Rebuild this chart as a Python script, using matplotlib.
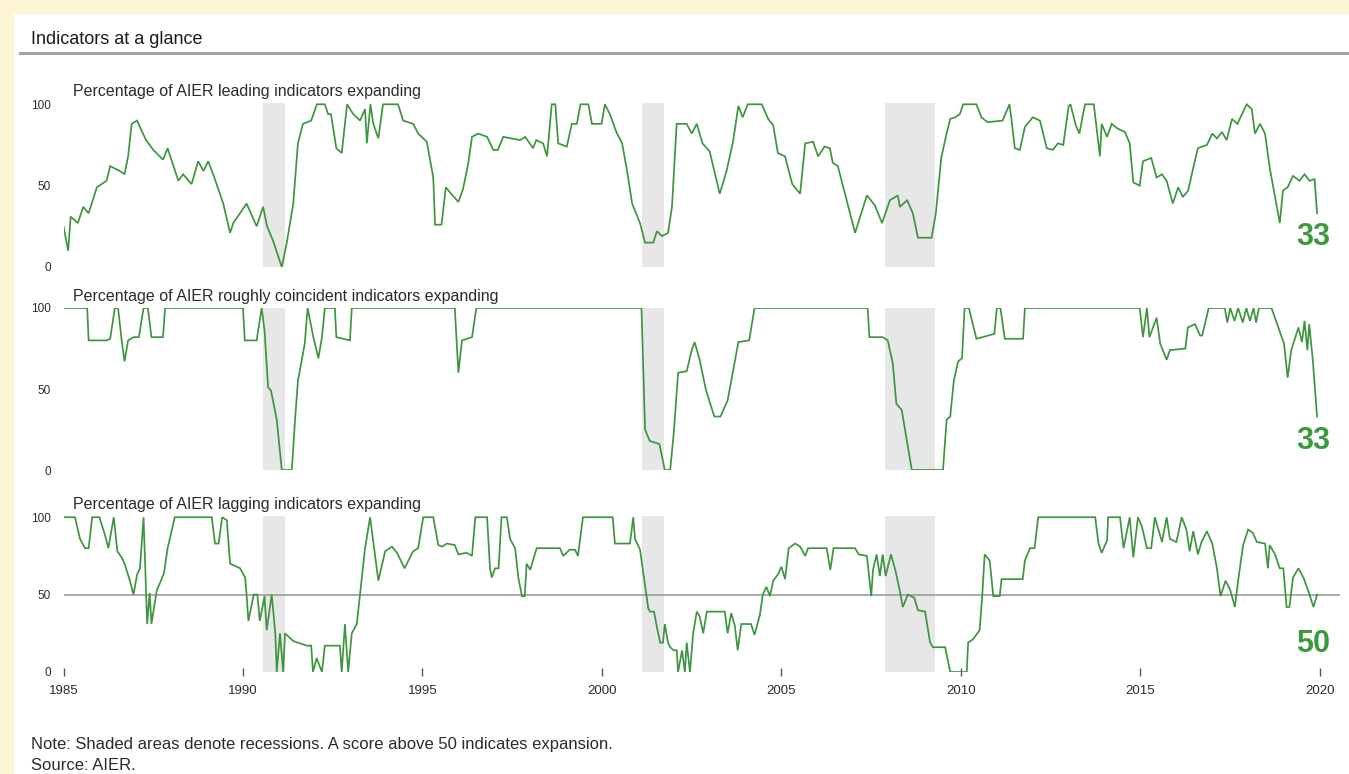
import matplotlib
matplotlib.use("Agg")
import matplotlib.pyplot as plt
from matplotlib.patches import Rectangle
from matplotlib.lines import Line2D
import numpy as np

# ---- data: (decimal year, % of indicators expanding) ----
lead_t = [1985.00, 1985.13, 1985.20, 1985.40, 1985.55, 1985.70, 1985.93, 1986.20, 1986.30, 1986.57,
          1986.70, 1986.80, 1986.90, 1987.05, 1987.15, 1987.30, 1987.50, 1987.77, 1987.90, 1988.05,
          1988.20, 1988.33, 1988.57, 1988.75, 1988.90, 1989.03, 1989.17, 1989.45, 1989.64, 1989.73,
          1990.10, 1990.38, 1990.56, 1990.67, 1990.84, 1991.08, 1991.22, 1991.40, 1991.53, 1991.67,
          1991.90, 1992.06, 1992.28, 1992.37, 1992.45, 1992.60, 1992.75, 1992.90, 1993.07, 1993.26,
          1993.40, 1993.45, 1993.55, 1993.63, 1993.77, 1993.90, 1994.32, 1994.46, 1994.74, 1994.88,
          1995.12, 1995.30, 1995.35, 1995.53, 1995.65, 1995.80, 1996.00, 1996.13, 1996.27, 1996.38,
          1996.55, 1996.80, 1996.97, 1997.10, 1997.25, 1997.72, 1997.86, 1998.08, 1998.17, 1998.36,
          1998.47, 1998.60, 1998.70, 1998.78, 1999.02, 1999.16, 1999.30, 1999.40, 1999.62, 1999.72,
          1999.99, 2000.08, 2000.22, 2000.40, 2000.56, 2000.70, 2000.84, 2000.97, 2001.06, 2001.20,
          2001.43, 2001.53, 2001.67, 2001.84, 2001.95, 2002.08, 2002.36, 2002.50, 2002.64, 2002.80,
          2003.00, 2003.28, 2003.47, 2003.65, 2003.80, 2003.92, 2004.06, 2004.45, 2004.63, 2004.77,
          2004.90, 2005.10, 2005.30, 2005.52, 2005.66, 2005.88, 2006.02, 2006.20, 2006.35, 2006.43,
          2006.57, 2007.05, 2007.38, 2007.60, 2007.80, 2008.02, 2008.24, 2008.30, 2008.50, 2008.66,
          2008.80, 2009.18, 2009.30, 2009.45, 2009.60, 2009.70, 2009.84, 2009.97, 2010.06, 2010.43,
          2010.57, 2010.74, 2011.16, 2011.35, 2011.40, 2011.50, 2011.64, 2011.78, 2012.00, 2012.20,
          2012.39, 2012.56, 2012.70, 2012.85, 2013.00, 2013.05, 2013.20, 2013.30, 2013.40, 2013.46,
          2013.70, 2013.78, 2013.87, 2013.92, 2014.07, 2014.20, 2014.37, 2014.57, 2014.70, 2014.80,
          2014.98, 2015.07, 2015.30, 2015.45, 2015.60, 2015.73, 2015.90, 2016.05, 2016.18, 2016.33,
          2016.47, 2016.60, 2016.85, 2017.00, 2017.13, 2017.27, 2017.40, 2017.55, 2017.70, 2017.83,
          2017.96, 2018.10, 2018.19, 2018.33, 2018.47, 2018.60, 2018.75, 2018.88, 2018.97, 2019.10,
          2019.25, 2019.43, 2019.57, 2019.71, 2019.85, 2019.92]
lead_v = [25, 10, 31, 27, 37, 33, 49, 53, 62, 59,
          57, 68, 88, 90, 85, 78, 72, 66, 73, 63,
          53, 57, 51, 65, 59, 65, 57, 39, 21, 27,
          39, 25, 37, 25, 16, 0, 15, 39, 76, 88,
          90, 100, 100, 94, 94, 73, 70, 100, 94, 90,
          97, 76, 100, 88, 79, 100, 100, 90, 88, 82,
          77, 55, 26, 26, 49, 45, 40, 48, 63, 80,
          82, 80, 72, 72, 80, 78, 80, 73, 78, 76,
          68, 100, 100, 76, 74, 88, 88, 100, 100, 88,
          88, 100, 94, 83, 76, 59, 39, 32, 27, 15,
          15, 22, 19, 21, 37, 88, 88, 82, 88, 76,
          71, 45, 59, 77, 99, 92, 100, 100, 91, 87,
          70, 68, 51, 45, 76, 77, 68, 74, 73, 64,
          62, 21, 44, 38, 27, 41, 44, 37, 41, 33,
          18, 18, 33, 67, 82, 91, 92, 94, 100, 100,
          92, 89, 90, 100, 92, 73, 72, 86, 92, 90,
          73, 72, 76, 75, 99, 100, 87, 82, 94, 100,
          100, 85, 68, 88, 80, 88, 85, 83, 76, 52,
          50, 65, 67, 55, 57, 53, 39, 49, 43, 47,
          61, 73, 75, 82, 79, 83, 78, 91, 88, 94,
          100, 97, 82, 88, 82, 61, 43, 27, 47, 49,
          56, 53, 57, 53, 54, 33]

coin_t = [1985.00, 1985.66, 1985.70, 1986.20, 1986.30, 1986.43, 1986.52, 1986.62, 1986.70, 1986.80,
          1986.95, 1987.10, 1987.23, 1987.35, 1987.45, 1987.77, 1987.83, 1990.00, 1990.05, 1990.38,
          1990.52, 1990.60, 1990.70, 1990.78, 1990.94, 1991.08, 1991.36, 1991.45, 1991.53, 1991.63,
          1991.72, 1991.80, 1991.95, 1992.10, 1992.20, 1992.28, 1992.56, 1992.60, 1992.98, 1993.03,
          1995.90, 1996.00, 1996.10, 1996.38, 1996.50, 2001.10, 2001.20, 2001.33, 2001.60, 2001.75,
          2001.90, 2002.00, 2002.12, 2002.36, 2002.50, 2002.58, 2002.72, 2002.90, 2003.13, 2003.30,
          2003.50, 2003.80, 2004.10, 2004.25, 2007.40, 2007.45, 2007.82, 2007.96, 2008.10, 2008.20,
          2008.35, 2008.63, 2009.50, 2009.60, 2009.70, 2009.80, 2009.92, 2010.03, 2010.10, 2010.22,
          2010.43, 2010.93, 2011.00, 2011.10, 2011.22, 2011.73, 2011.78, 2014.98, 2015.07, 2015.18,
          2015.25, 2015.45, 2015.55, 2015.73, 2015.82, 2016.25, 2016.32, 2016.52, 2016.66, 2016.72,
          2016.90, 2017.35, 2017.42, 2017.50, 2017.62, 2017.72, 2017.85, 2017.95, 2018.05, 2018.15,
          2018.22, 2018.30, 2018.65, 2019.00, 2019.10, 2019.20, 2019.40, 2019.50, 2019.57, 2019.65,
          2019.70, 2019.80, 2019.92]
coin_v = [100, 100, 80, 80, 81, 100, 100, 80, 67, 80,
          82, 82, 100, 100, 82, 82, 100, 100, 80, 80,
          100, 86, 51, 49, 31, 0, 0, 31, 55, 67,
          78, 100, 83, 69, 82, 100, 100, 82, 80, 100,
          100, 60, 80, 82, 100, 100, 25, 18, 16, 0,
          0, 23, 60, 61, 74, 79, 68, 49, 33, 33,
          43, 79, 80, 100, 100, 82, 82, 80, 66, 41,
          37, 0, 0, 31, 33, 55, 67, 69, 100, 100,
          81, 84, 100, 100, 81, 81, 100, 100, 82, 100,
          82, 94, 78, 68, 74, 75, 88, 90, 83, 83,
          100, 100, 91, 100, 92, 100, 91, 100, 92, 100,
          91, 100, 100, 78, 57, 74, 88, 79, 92, 74,
          90, 68, 33]

lag_t = [1985.00, 1985.32, 1985.46, 1985.60, 1985.70, 1985.80, 1986.00, 1986.15, 1986.25, 1986.40,
         1986.50, 1986.62, 1986.70, 1986.85, 1986.95, 1987.05, 1987.13, 1987.23, 1987.33, 1987.40,
         1987.45, 1987.60, 1987.68, 1987.80, 1987.90, 1988.10, 1989.13, 1989.22, 1989.32, 1989.42,
         1989.55, 1989.64, 1989.92, 1990.06, 1990.10, 1990.15, 1990.30, 1990.40, 1990.47, 1990.60,
         1990.66, 1990.80, 1990.90, 1990.94, 1991.03, 1991.12, 1991.17, 1991.40, 1991.78, 1991.90,
         1991.95, 1992.05, 1992.20, 1992.28, 1992.70, 1992.75, 1992.84, 1992.93, 1993.03, 1993.17,
         1993.26, 1993.40, 1993.54, 1993.63, 1993.77, 1993.96, 1994.15, 1994.29, 1994.50, 1994.74,
         1994.88, 1995.02, 1995.30, 1995.44, 1995.55, 1995.68, 1995.90, 1996.00, 1996.23, 1996.38,
         1996.47, 1996.80, 1996.88, 1996.93, 1997.02, 1997.12, 1997.20, 1997.35, 1997.44, 1997.58,
         1997.67, 1997.77, 1997.85, 1997.90, 1998.00, 1998.18, 1998.83, 1998.92, 1999.10, 1999.25,
         1999.33, 1999.47, 2000.30, 2000.36, 2000.78, 2000.87, 2000.92, 2001.06, 2001.15, 2001.29,
         2001.34, 2001.45, 2001.53, 2001.62, 2001.70, 2001.75, 2001.84, 2001.90, 2002.00, 2002.08,
         2002.12, 2002.23, 2002.31, 2002.36, 2002.45, 2002.54, 2002.64, 2002.72, 2002.82, 2002.92,
         2003.42, 2003.50, 2003.60, 2003.70, 2003.78, 2003.88, 2004.15, 2004.25, 2004.40, 2004.48,
         2004.58, 2004.68, 2004.77, 2004.90, 2005.00, 2005.10, 2005.20, 2005.38, 2005.52, 2005.66,
         2005.74, 2006.26, 2006.36, 2006.45, 2007.05, 2007.15, 2007.38, 2007.50, 2007.55, 2007.65,
         2007.74, 2007.82, 2007.90, 2008.05, 2008.17, 2008.30, 2008.38, 2008.52, 2008.70, 2008.80,
         2009.00, 2009.14, 2009.22, 2009.56, 2009.70, 2010.16, 2010.20, 2010.33, 2010.52, 2010.60,
         2010.66, 2010.80, 2010.90, 2011.08, 2011.13, 2011.72, 2011.78, 2011.92, 2012.05, 2012.15,
         2013.74, 2013.83, 2013.92, 2014.07, 2014.10, 2014.43, 2014.53, 2014.70, 2014.80, 2014.93,
         2015.04, 2015.18, 2015.30, 2015.40, 2015.50, 2015.60, 2015.73, 2015.82, 2016.00, 2016.15,
         2016.28, 2016.37, 2016.47, 2016.60, 2016.70, 2016.85, 2017.00, 2017.13, 2017.23, 2017.37,
         2017.50, 2017.63, 2017.72, 2017.86, 2018.00, 2018.13, 2018.24, 2018.47, 2018.55, 2018.60,
         2018.75, 2018.88, 2018.98, 2019.07, 2019.15, 2019.25, 2019.40, 2019.54, 2019.68, 2019.82,
         2019.92]
lag_v = [100, 100, 86, 80, 80, 100, 100, 89, 80, 100,
         78, 74, 70, 59, 50, 63, 67, 100, 31, 51,
         31, 53, 57, 64, 80, 100, 100, 83, 83, 100,
         98, 70, 67, 61, 50, 33, 50, 50, 33, 49,
         27, 50, 25, 0, 25, 0, 25, 20, 17, 17,
         0, 9, 0, 17, 17, 0, 31, 0, 25, 31,
         50, 80, 100, 84, 59, 78, 81, 77, 67, 78,
         80, 100, 100, 82, 81, 83, 82, 76, 77, 75,
         100, 100, 67, 61, 67, 67, 100, 100, 86, 80,
         61, 49, 49, 70, 66, 80, 80, 75, 79, 79,
         75, 100, 100, 83, 83, 100, 86, 79, 64, 41,
         39, 39, 29, 19, 19, 31, 19, 16, 14, 14,
         0, 14, 0, 19, 0, 25, 39, 36, 25, 39,
         39, 25, 38, 30, 14, 31, 31, 24, 37, 50,
         55, 49, 59, 63, 68, 60, 80, 83, 81, 75,
         80, 80, 66, 80, 80, 76, 75, 49, 66, 76,
         62, 76, 62, 76, 66, 52, 42, 50, 48, 40,
         39, 19, 16, 16, 0, 0, 19, 21, 27, 52,
         76, 72, 49, 49, 60, 60, 72, 80, 80, 100,
         100, 83, 77, 85, 100, 100, 80, 100, 74, 100,
         94, 80, 80, 100, 92, 84, 100, 86, 84, 100,
         92, 78, 91, 76, 84, 91, 83, 67, 49, 59,
         53, 42, 59, 82, 92, 90, 84, 83, 67, 82,
         76, 67, 67, 42, 42, 61, 67, 61, 52, 42,
         50]

# NBER recessions (start, end) in decimal years
recessions = [(1990.55, 1991.17), (2001.12, 2001.73), (2007.87, 2009.28)]

panel_titles = ["Percentage of AIER leading indicators expanding",
                "Percentage of AIER roughly coincident indicators expanding",
                "Percentage of AIER lagging indicators expanding"]
year_ticks = [1985, 1990, 1995, 2000, 2005, 2010, 2015, 2020]
value_ticks = [0, 50, 100]

# ---- styling ----
W, H = 1349, 774
CREAM = "#FDF5D6"
GREEN = "#3f953f"
LABEL_GREEN = "#3c9a3c"
SHADE = "#e7e7e7"
TEXT = "#2b2b2b"
FONT = ["Liberation Sans", "DejaVu Sans"]
plt.rcParams["font.family"] = FONT

fig = plt.figure(figsize=(W / 100, H / 100), dpi=100, facecolor=CREAM)

def px_box(x0, y_top, x1, y_bot):
    return [x0 / W, 1 - y_bot / H, (x1 - x0) / W, (y_bot - y_top) / H]

# white card behind everything
fig.patches.append(Rectangle((14 / W, 0), 1 - 14 / W, 1 - 14 / H, transform=fig.transFigure,
                             facecolor="white", edgecolor="none", zorder=-10))
# header
fig.text(31 / W, 1 - 39 / H, "Indicators at a glance", fontsize=13, color="#1a1a1a",
         va="center", ha="left")
fig.add_artist(Line2D([20 / W, 1.0], [1 - 53 / H, 1 - 53 / H], transform=fig.transFigure,
                      color="#a3a3a3", lw=2.2))

x_left, x_right = 63.5, 1339.7
xlim = (1985.0, 2020.55)
panels = [
    (lead_t, lead_v, 103, 267, (0, 100.8)),
    (coin_t, coin_v, 308, 470, (0, 100)),
    (lag_t, lag_v, 516, 672, (0, 100.8)),
]

for i, (t, v, ytop, ybot, ylim) in enumerate(panels):
    ax = fig.add_axes(px_box(x_left, ytop, x_right, ybot))
    ax.set_facecolor("none")
    ax.set_xlim(*xlim)
    ax.set_ylim(*ylim)
    for s in ax.spines.values():
        s.set_visible(False)
    for a, b in recessions:
        ax.axvspan(a, b, color=SHADE, lw=0, zorder=0)
    if i == 2:
        ax.axhline(50, color="#9c9c9c", lw=1.2, zorder=1)
    ax.plot(t, v, color=GREEN, lw=1.25, zorder=3, solid_joinstyle="miter")
    ax.set_yticks(value_ticks)
    ax.set_yticklabels([str(k) for k in value_ticks], fontsize=8.5, color=TEXT)
    ax.tick_params(axis="y", length=0, pad=9)
    if i == 2:
        ax.set_xticks(year_ticks)
        ax.set_xticklabels([str(y) for y in year_ticks], fontsize=9.5, color=TEXT)
        ax.tick_params(axis="x", direction="inout", length=6, width=1, color="#555555", pad=6)
    else:
        ax.set_xticks([])
    h = ybot - ytop
    ax.text(0.0074, 1 + 11.5 / h, panel_titles[i], transform=ax.transAxes, fontsize=11.5,
            color=TEXT, ha="left", va="center")
    # latest reading
    ax.text(2020.28, 0.18, f"{v[-1]:.0f}", transform=ax.get_xaxis_transform(),
            fontsize=22, fontweight="bold", color=LABEL_GREEN, ha="right", va="center")

fig.text(31 / W, 1 - 745 / H, "Note: Shaded areas denote recessions. A score above 50 indicates expansion.",
         fontsize=12, color=TEXT, ha="left", va="center")
fig.text(31 / W, 1 - 766 / H, "Source: AIER.", fontsize=12, color=TEXT, ha="left", va="center")

fig.savefig("out.png", dpi=100, facecolor=CREAM)
